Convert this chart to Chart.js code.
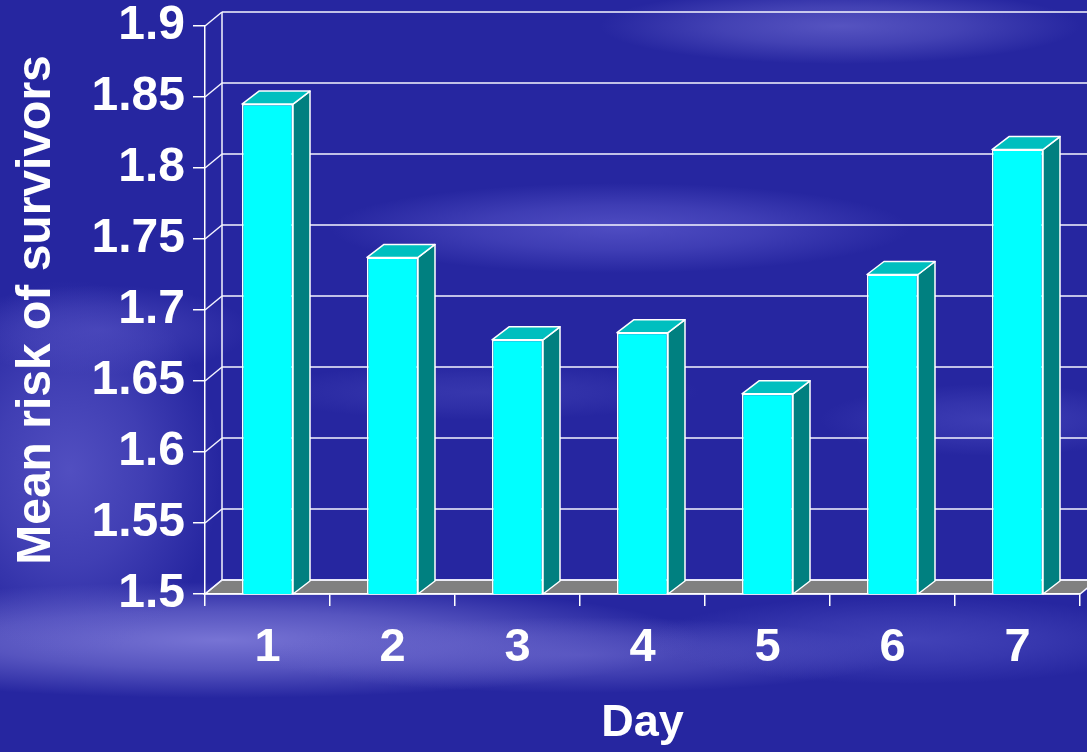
<!DOCTYPE html>
<html>
<head>
<meta charset="utf-8">
<script src="https://cdn.jsdelivr.net/npm/chart.js@4.4.0/dist/chart.umd.min.js"></script>
<style>
  html, body { margin: 0; padding: 0; background: #2626a0; overflow: hidden; }
  canvas { display: block; }
</style>
</head>
<body>
<canvas id="chart" width="1087" height="752"></canvas>
<script>
// ---- data ----
const days = ['1', '2', '3', '4', '5', '6', '7'];
const meanRisk = [1.845, 1.737, 1.679, 1.684, 1.641, 1.725, 1.813];
const yTickLabels = ['1.5', '1.55', '1.6', '1.65', '1.7', '1.75', '1.8', '1.85', '1.9'];
const yMin = 1.5, yMax = 1.9, yStep = 0.05;
const yTitle = 'Mean risk of survivors';
const xTitle = 'Day';

// ---- 3D box depth (pixels) ----
const WALL_DX = 17, WALL_DY = -14;
const BAR_DX = 17, BAR_DY = -13;

const FONT = '"Liberation Sans", Arial, Helvetica, sans-serif';
Chart.defaults.font.family = FONT;

// soft light streaks across the slide background
const streaks = [
  [220, 640, 480, 58, '128,124,218', 0.9],
  [580, 655, 320, 38, '112,108,208', 0.6],
  [70, 470, 150, 190, '100,96,206', 0.7],
  [100, 330, 150, 45, '94,90,202', 0.5],
  [840, 26, 240, 38, '118,114,214', 0.6],
  [620, 228, 290, 45, '106,102,216', 0.6],
  [990, 420, 170, 36, '88,88,204', 0.45],
  [910, 640, 260, 44, '94,94,206', 0.5],
  [480, 392, 220, 28, '86,86,198', 0.35]
];

function paintBackground(ctx, w, h) {
  ctx.save();
  ctx.fillStyle = '#2626a0';
  ctx.fillRect(0, 0, w, h);
  streaks.forEach(([cx, cy, rx, ry, rgb, a]) => {
    ctx.save();
    ctx.translate(cx, cy);
    ctx.scale(rx, ry);
    const g = ctx.createRadialGradient(0, 0, 0, 0, 0, 1);
    g.addColorStop(0, `rgba(${rgb},${a})`);
    g.addColorStop(0.5, `rgba(${rgb},${a * 0.6})`);
    g.addColorStop(1, `rgba(${rgb},0)`);
    ctx.fillStyle = g;
    ctx.beginPath();
    ctx.arc(0, 0, 1, 0, Math.PI * 2);
    ctx.fill();
    ctx.restore();
  });
  ctx.restore();
}

function seg(ctx, x1, y1, x2, y2) {
  ctx.beginPath();
  ctx.moveTo(x1, y1);
  ctx.lineTo(x2, y2);
  ctx.stroke();
}

// draws the back wall, side wall, floor and the column side/top faces
const box3d = {
  id: 'box3d',
  beforeDraw(chart) {
    const { ctx, chartArea: a, scales: { y } } = chart;
    paintBackground(ctx, chart.width, chart.height);
    ctx.save();
    ctx.strokeStyle = '#f4f4ff';
    ctx.lineWidth = 1.5;
    const bx = a.left + WALL_DX;
    const yb = y.getPixelForValue(yMin);
    // floor
    ctx.fillStyle = '#808080';
    ctx.beginPath();
    ctx.moveTo(a.left, yb);
    ctx.lineTo(a.right, yb);
    ctx.lineTo(a.right + WALL_DX, yb + WALL_DY);
    ctx.lineTo(bx, yb + WALL_DY);
    ctx.closePath();
    ctx.fill();
    ctx.stroke();
    // side-wall diagonals and back-wall gridlines
    y.ticks.forEach(t => {
      const py = y.getPixelForValue(t.value);
      seg(ctx, a.left, py, bx, py + WALL_DY);
      seg(ctx, bx, py + WALL_DY, a.right + WALL_DX, py + WALL_DY);
    });
    // back wall edge
    seg(ctx, bx, y.getPixelForValue(yMax) + WALL_DY, bx, yb + WALL_DY);
    ctx.restore();
  },
  afterDatasetsDraw(chart) {
    const { ctx, scales: { y: yScale } } = chart;
    const meta = chart.getDatasetMeta(0);
    const base = yScale.getPixelForValue(yMin);
    ctx.save();
    ctx.strokeStyle = '#ffffff';
    ctx.lineWidth = 1.5;
    ctx.lineJoin = 'round';
    meta.data.forEach(bar => {
      const { x, y, width } = bar.getProps(['x', 'y', 'width'], true);
      const l = x - width / 2, r = x + width / 2;
      // side face
      ctx.fillStyle = '#008080';
      ctx.beginPath();
      ctx.moveTo(r, y);
      ctx.lineTo(r + BAR_DX, y + BAR_DY);
      ctx.lineTo(r + BAR_DX, base + BAR_DY);
      ctx.lineTo(r, base);
      ctx.closePath();
      ctx.fill();
      ctx.stroke();
      // top face
      ctx.fillStyle = '#00bfbf';
      ctx.beginPath();
      ctx.moveTo(l, y);
      ctx.lineTo(l + BAR_DX, y + BAR_DY);
      ctx.lineTo(r + BAR_DX, y + BAR_DY);
      ctx.lineTo(r, y);
      ctx.closePath();
      ctx.fill();
      ctx.stroke();
    });
    ctx.restore();
  }
};

new Chart(document.getElementById('chart').getContext('2d'), {
  type: 'bar',
  data: {
    labels: days,
    datasets: [{
      data: meanRisk,
      backgroundColor: '#00ffff',
      borderColor: '#ffffff',
      borderWidth: 1.5,
      borderSkipped: false,
      barPercentage: 0.408,
      categoryPercentage: 1
    }]
  },
  options: {
    responsive: false,
    animation: false,
    devicePixelRatio: 1,
    layout: { padding: { top: 26, right: 7, left: 0, bottom: 0 } },
    plugins: { legend: { display: false }, tooltip: { enabled: false } },
    scales: {
      x: {
        offset: true,
        grid: { offset: true, drawOnChartArea: false, drawTicks: true, tickLength: 12, color: '#ffffff', lineWidth: 1.5 },
        border: { display: true, color: '#ffffff', width: 1.5 },
        ticks: { color: '#ffffff', font: { size: 47, weight: 'bold' }, padding: 14, maxRotation: 0 },
        title: { display: true, text: xTitle, color: '#ffffff', font: { size: 45, weight: 'bold' }, padding: { top: 0, bottom: 1 } },
        afterFit: s => { s.height = 158; s.paddingLeft = 0; s.paddingRight = 0; }
      },
      y: {
        min: yMin,
        max: yMax,
        ticks: {
          stepSize: yStep,
          color: '#ffffff',
          font: { size: 48, weight: 'bold' },
          padding: 8,
          callback: v => yTickLabels[Math.round((v - yMin) / yStep)]
        },
        grid: { drawOnChartArea: false, drawTicks: true, tickLength: 12, color: '#ffffff', lineWidth: 1.5 },
        border: { display: true, color: '#ffffff', width: 1.5 },
        title: { display: true, text: yTitle, color: '#ffffff', font: { size: 48, weight: 'bold' }, padding: { top: 8, bottom: 0 } },
        afterFit: s => { s.width = 205; s.paddingTop = 0; s.paddingBottom = 0; }
      }
    }
  },
  plugins: [box3d]
});
</script>
</body>
</html>
